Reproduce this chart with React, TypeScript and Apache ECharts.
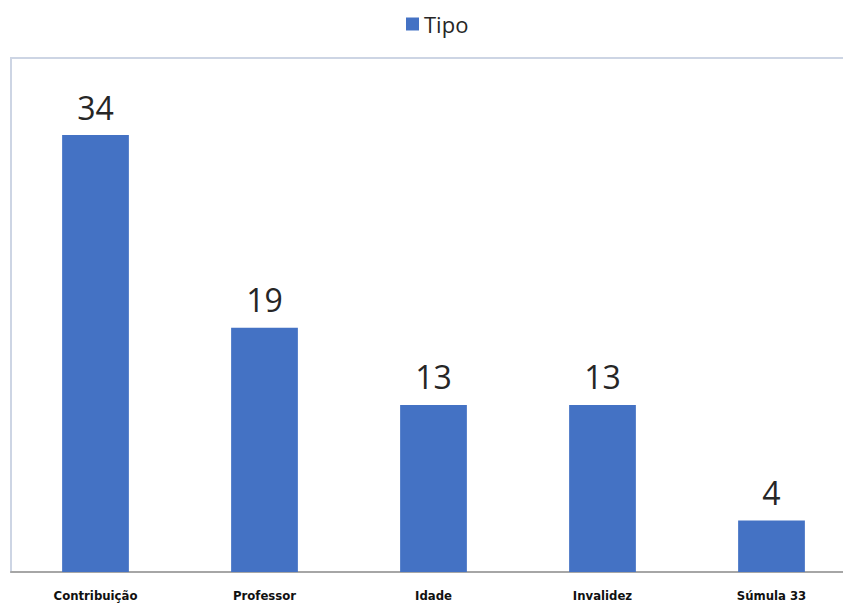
import React, { useEffect, useRef } from "react";
import * as echarts from "echarts";

const categories = ["Contribuição", "Professor", "Idade", "Invalidez", "Súmula 33"];
const values = [34, 19, 13, 13, 4];
const seriesName = "Tipo";

export default function App() {
  const ref = useRef<HTMLDivElement>(null);
  useEffect(() => {
    if (!ref.current) return;
    document.body.style.overflow = "hidden";
    const chart = echarts.init(ref.current, null, { renderer: "svg" });
    chart.setOption({
      animation: false,
      backgroundColor: "#ffffff",
      legend: {
        data: [seriesName],
        left: 401,
        top: 8,
        itemWidth: 13,
        itemHeight: 13,
        icon: "rect",
        itemGap: 8,
        textStyle: { fontSize: 22, color: "#262626", fontFamily: "Open Sans" },
      },
      grid: {
        left: 11,
        top: 58,
        width: 845,
        bottom: 34,
        show: true,
        borderColor: "#cdd5e4",
        borderWidth: 2,
        containLabel: false,
      },
      xAxis: {
        type: "category",
        data: categories,
        axisLine: { show: true, lineStyle: { color: "#a6a6a6", width: 2 } },
        axisTick: { show: false },
        axisLabel: {
          interval: 0,
          margin: 17,
          fontSize: 13,
          color: "#111111",
          fontFamily: "DejaVu Sans Condensed",
          fontWeight: "bold",
        },
      },
      yAxis: {
        type: "value",
        min: 0,
        max: 40,
        interval: 10,
        show: false,
        splitLine: { show: false },
      },
      series: [
        {
          name: seriesName,
          type: "bar",
          data: values,
          barWidth: "39.5%",
          itemStyle: { color: "#4472c4" },
          label: {
            show: true,
            position: "top",
            distance: 12,
            fontSize: 32,
            color: "#262626",
            fontFamily: "Open Sans",
          },
        },
      ],
    });
    return () => chart.dispose();
  }, []);
  return (
    <div
      ref={ref}
      style={{ position: "fixed", left: 0, top: 0, width: 860, height: 606 }}
    />
  );
}
